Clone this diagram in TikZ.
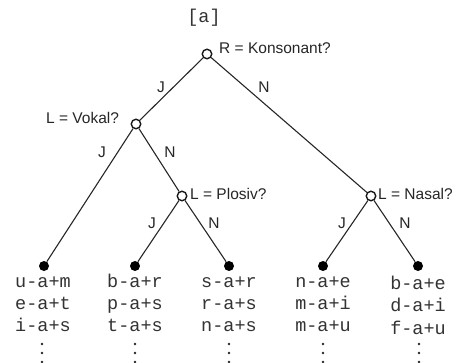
\documentclass[tikz,border=0pt]{standalone}
\usepackage{fontspec}
\setmainfont{Liberation Sans}
\newfontfamily\lmono{Liberation Mono}
\begin{document}
\begin{tikzpicture}[x=1pt,y=-1pt,
  inode/.style={circle,draw=black!90,fill=white,line width=1.4pt,minimum size=9.5pt,inner sep=0pt},
  leaf/.style={circle,fill=black,minimum size=10pt,inner sep=0pt},
  edge/.style={line width=1.1pt,draw=black!85},
  lbl/.style={font=\fontsize{15.5}{18}\selectfont,inner sep=0pt,text=black!85},
  seq/.style={font=\lmono\fontsize{18.5}{22}\selectfont,inner sep=0pt,anchor=base,text=black!80},
  vdot/.style={circle,fill=black!85,inner sep=0pt,minimum size=2.6pt}]
\useasboundingbox (0,0) rectangle (465,363);
% title
\node[seq] (title) at (204,23) {[a]};
% decision nodes
\node[inode] (R) at (207,54) {};
\node[inode] (V) at (136,124) {};
\node[inode] (P) at (182,196) {};
\node[inode] (Na) at (371,196) {};
% leaves
\node[leaf] (l1) at (44,266) {};
\node[leaf] (l2) at (135,266) {};
\node[leaf] (l3) at (229,266) {};
\node[leaf] (l4) at (323,266) {};
\node[leaf] (l5) at (418,266) {};
% edges
\draw[edge] (R) -- (V);
\draw[edge] (R) -- (Na);
\draw[edge] (V) -- (l1);
\draw[edge] (V) -- (P);
\draw[edge] (P) -- (l2);
\draw[edge] (P) -- (l3);
\draw[edge] (Na) -- (l4);
\draw[edge] (Na) -- (l5);
% question labels
\node[lbl,anchor=base west] (qR) at (219,54) {R = Konsonant?};
\node[lbl,anchor=base west] (qV) at (46,124) {L = Vokal?};
\node[lbl,anchor=base west] (qP) at (190,200) {L = Plosiv?};
\node[lbl,anchor=base west] (qN) at (378,200) {L = Nasal?};
% edge labels
\node[lbl] (e1) at (161,87) {J};
\node[lbl] (e2) at (264,87) {N};
\node[lbl] (e3) at (102,152) {J};
\node[lbl] (e4) at (170,152) {N};
\node[lbl] (e5) at (152,223) {J};
\node[lbl] (e6) at (214,223) {N};
\node[lbl] (e7) at (342,223) {J};
\node[lbl] (e8) at (405,223) {N};
% sequences
\node[seq] (s1a) at (43,287) {u-a+m};
\node[seq] (s1b) at (43,309.3) {e-a+t};
\node[seq] (s1c) at (43,331.6) {i-a+s};
\node[seq] (s2a) at (135,287) {b-a+r};
\node[seq] (s2b) at (135,309.3) {p-a+s};
\node[seq] (s2c) at (135,331.6) {t-a+s};
\node[seq] (s3a) at (229,287) {s-a+r};
\node[seq] (s3b) at (229,309.3) {r-a+s};
\node[seq] (s3c) at (229,331.6) {n-a+s};
\node[seq] (s4a) at (323,287) {n-a+e};
\node[seq] (s4b) at (323,309.3) {m-a+i};
\node[seq] (s4c) at (323,331.6) {m-a+u};
\node[seq] (s5a) at (418,289.5) {b-a+e};
\node[seq] (s5b) at (418,311.8) {d-a+i};
\node[seq] (s5c) at (418,334) {f-a+u};
% vertical dots
\foreach \x/\n in {42/1,135/2,229/3,323/4,419/5}{
  \node[vdot] (d\n a) at (\x,344) {};
  \node[vdot] (d\n b) at (\x,353) {};
  \node[vdot] (d\n c) at (\x,362) {};
}
\end{tikzpicture}
\end{document}
